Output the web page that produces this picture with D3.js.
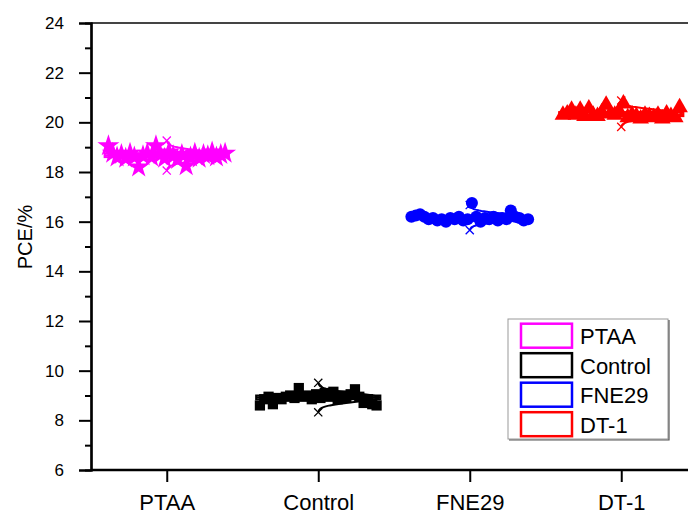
<!DOCTYPE html>
<html>
<head>
<meta charset="utf-8">
<script src="https://cdn.jsdelivr.net/npm/d3@7"></script>
<style>
  html, body { margin: 0; padding: 0; background: #fff; }
  svg { display: block; font-family: "Liberation Sans", Arial, sans-serif; }
</style>
</head>
<body>
<svg id="chart" width="688" height="515"></svg>
<script>
// Device groups and their colours / marker shapes
const categories = ["PTAA", "Control", "FNE29", "DT-1"];
const colors = ["#FF00FF", "#000000", "#0000FF", "#FF0000"];
const symbols = [d3.symbolStar, d3.symbolSquare, d3.symbolCircle, d3.symbolTriangle];
const symbolSizes = [150, 105, 115, 120];

// PCE (%) of each device, left to right within each group
const ptaaPCE = [19.05, 18.75, 18.60, 18.70, 18.55, 18.75, 18.60, 18.20, 18.65, 18.75,
                 18.60, 19.05, 18.70, 18.55, 18.80, 18.65, 18.50, 18.70, 18.25, 18.60,
                 18.75, 18.55, 18.70, 18.65, 18.80, 18.60, 18.70, 18.75];
const controlPCE = [8.60, 8.85, 8.95, 8.65, 8.90, 8.85, 8.95, 9.00, 8.90, 9.30,
                    8.95, 9.00, 8.85, 9.05, 8.90, 9.10, 8.95, 9.15, 8.85, 9.00,
                    8.90, 9.05, 9.25, 8.95, 8.70, 8.85, 8.65, 8.60];
const fne29PCE = [16.20, 16.25, 16.30, 16.20, 16.10, 16.15, 16.05, 16.10, 16.00, 16.15,
                  16.10, 16.20, 16.05, 16.10, 16.75, 16.20, 16.00, 16.15, 16.10, 16.20,
                  16.05, 16.15, 16.10, 16.45, 16.20, 16.15, 16.05, 16.10];
const dt1PCE = [20.30, 20.35, 20.50, 20.30, 20.50, 20.25, 20.55, 20.30, 20.25, 20.40,
                20.70, 20.35, 20.30, 20.45, 20.75, 20.20, 20.30, 20.25, 20.15, 20.30,
                20.25, 20.20, 20.30, 20.15, 20.35, 20.25, 20.20, 20.60];
const seriesValues = [ptaaPCE, controlPCE, fne29PCE, dt1PCE];

const yTicks = [6, 8, 10, 12, 14, 16, 18, 20, 22, 24];
const yMinorTicks = [7, 9, 11, 13, 15, 17, 19, 21, 23];
const yLabel = "PCE/%";

const svg = d3.select("#chart");
const plotLeft = 91, plotTop = 23, plotBottom = 470, plotRight = 697;

const x = d3.scaleLinear().domain([0, categories.length]).range([plotLeft, plotRight]);
const y = d3.scaleLinear().domain([6, 24]).range([plotBottom, plotTop]);

// frame
svg.append("line").attr("x1", plotLeft).attr("x2", 688).attr("y1", plotTop).attr("y2", plotTop)
  .attr("stroke", "#444").attr("stroke-width", 2);

// y axis: majors with labels, minors without
const yAxis = svg.append("g").attr("transform", `translate(${plotLeft},0)`)
  .call(d3.axisLeft(y).tickValues(yTicks).tickSize(12).tickPadding(15).tickFormat(d3.format("d")));
const yMinor = svg.append("g").attr("transform", `translate(${plotLeft},0)`)
  .call(d3.axisLeft(y).tickValues(yMinorTicks).tickSize(6).tickFormat(""));
[yAxis, yMinor].forEach(g => {
  g.select(".domain").attr("stroke", "#000").attr("stroke-width", 2.2);
  g.selectAll(".tick line").attr("stroke", "#000").attr("stroke-width", 2);
});
yAxis.selectAll(".tick text").attr("font-size", 17).attr("fill", "#000")
  .attr("font-family", "Liberation Sans, Arial, sans-serif");

// x axis
const xAxis = svg.append("g").attr("transform", `translate(0,${plotBottom})`)
  .call(d3.axisBottom(x).tickValues(categories.map((c, i) => i + 0.5))
    .tickSize(12).tickPadding(12).tickFormat((d, i) => categories[i]));
xAxis.select(".domain").attr("stroke", "#000").attr("stroke-width", 2.4)
  .attr("d", `M${plotLeft},0H688`);
xAxis.selectAll(".tick line").attr("stroke", "#000").attr("stroke-width", 2);
xAxis.selectAll(".tick text").attr("font-size", 22).attr("fill", "#000")
  .attr("font-family", "Liberation Sans, Arial, sans-serif");

// y axis title
svg.append("text").attr("transform", `translate(32,237) rotate(-90)`)
  .attr("text-anchor", "middle").attr("font-size", 20).attr("fill", "#000").text(yLabel);

// box + data + distribution curve per group
const boxHalf = 0.41, spreadHalf = 0.385, curveWidth = 0.40;
seriesValues.forEach((vals, gi) => {
  const col = colors[gi];
  const c = x(gi + 0.5);
  const g = svg.append("g");
  const sorted = vals.slice().sort(d3.ascending);
  const q1 = d3.quantile(sorted, 0.25), q3 = d3.quantile(sorted, 0.75), med = d3.median(sorted);
  const mean = d3.mean(vals), sd = d3.deviation(vals);
  const bw = x(boxHalf) - x(0);

  // box
  g.append("rect").attr("x", c - bw).attr("width", 2 * bw)
    .attr("y", y(q3)).attr("height", y(q1) - y(q3))
    .attr("fill", "none").attr("stroke", col).attr("stroke-width", 2);
  g.append("line").attr("x1", c - bw).attr("x2", c + bw).attr("y1", y(med)).attr("y2", y(med))
    .attr("stroke", col).attr("stroke-width", 2);

  // data points spread across the box width
  const sx = d3.scaleLinear().domain([0, vals.length - 1])
    .range([c - (x(spreadHalf) - x(0)), c + (x(spreadHalf) - x(0))]);
  g.selectAll("path.pt").data(vals).join("path").attr("class", "pt")
    .attr("d", d3.symbol().type(symbols[gi]).size(symbolSizes[gi]))
    .attr("transform", (d, i) => `translate(${sx(i)},${y(d)})`)
    .attr("fill", col);

  // normal distribution curve drawn to the right of the centre
  const cw = x(curveWidth) - x(0);
  const span = 3.4 * sd;
  const pts = d3.range(0, 61).map(k => {
    const v = mean - span + (2 * span) * k / 60;
    return [c + cw * Math.exp(-((v - mean) ** 2) / (2 * sd * sd)), y(v)];
  });
  g.append("path").attr("d", d3.line()(pts)).attr("fill", "none")
    .attr("stroke", col).attr("stroke-width", 2);
  // 1% / 99% markers
  [mean - span, mean + span].forEach(v => {
    g.append("path").attr("d", d3.symbol().type(d3.symbolTimes).size(45))
      .attr("transform", `translate(${c},${y(v)})`)
      .attr("fill", "none").attr("stroke", col).attr("stroke-width", 1.3);
  });
});

// legend
const lg = svg.append("g");
const lx = 508, ly = 319, lw = 160, lh = 120;
lg.append("rect").attr("x", lx).attr("y", ly).attr("width", lw).attr("height", lh)
  .attr("fill", "#fff").attr("stroke", "#999").attr("stroke-width", 1);
lg.append("path").attr("d", `M${lx + 1},${ly + lh + 1}H${lx + lw + 1}V${ly + 1}`)
  .attr("fill", "none").attr("stroke", "#555").attr("stroke-width", 1.2);
categories.forEach((name, i) => {
  const cy = ly + 16.7 + i * 29.5;
  lg.append("rect").attr("x", 521).attr("y", cy - 12).attr("width", 51).attr("height", 24)
    .attr("fill", "none").attr("stroke", colors[i]).attr("stroke-width", 2.5);
  lg.append("text").attr("x", 580).attr("y", cy + 8.5).attr("font-size", 22)
    .attr("fill", "#000").text(name);
});
</script>
</body>
</html>
